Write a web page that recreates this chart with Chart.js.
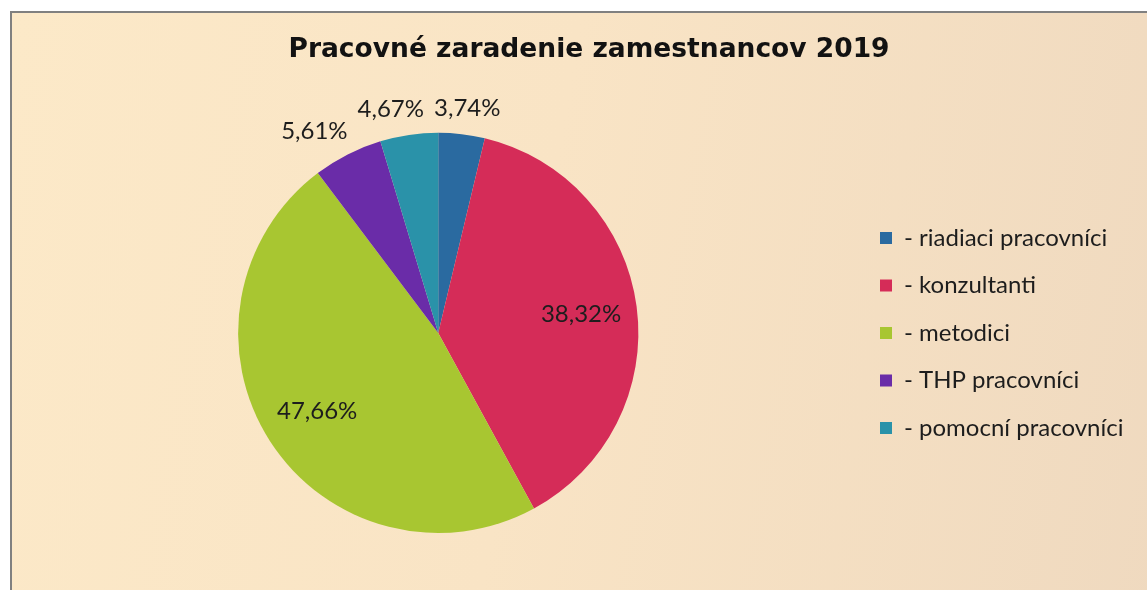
<!DOCTYPE html>
<html lang="sk">
<head>
<meta charset="utf-8">
<title>Pracovné zaradenie zamestnancov 2019</title>
<script src="https://cdn.jsdelivr.net/npm/chart.js@4.4.1/dist/chart.umd.min.js"></script>
<style>
  html, body { margin: 0; padding: 0; background: #fff; overflow: hidden; width: 1147px; height: 590px; }
  .frame {
    position: absolute; left: 10px; top: 11px; width: 1160px; height: 600px;
    border-left: 2px solid #808080; border-top: 2px solid #808080;
    background: linear-gradient(100deg, #fce9c8 0%, #f9e4c5 45%, #efd9bf 100%);
  }
  #chart { position: absolute; left: 20px; top: 0; }
</style>
</head>
<body>
<div class="frame"></div>
<canvas id="chart" width="1138" height="590"></canvas>
<script>
// data
const categories = ["riadiaci pracovníci", "konzultanti", "metodici", "THP pracovníci", "pomocní pracovníci"];
const shares = [3.74, 38.32, 47.66, 5.61, 4.67];
const sliceColors = ["#2a6aa0", "#d52c58", "#a8c631", "#6a2ca8", "#2a92a9"];
const titleText = "Pracovné zaradenie zamestnancov 2019";

// percentage labels: small slices outside, big ones inside
const pctLabels = {
  id: "pctLabels",
  afterDatasetsDraw(chart) {
    const ctx = chart.ctx;
    const meta = chart.getDatasetMeta(0);
    const h = 24, gap = 10;
    ctx.save();
    ctx.font = "24px Lato";
    ctx.fillStyle = "#1d1d1d";
    ctx.textAlign = "center";
    ctx.textBaseline = "middle";
    const outside = [];
    const inside = [];
    meta.data.forEach((arc, i) => {
      const p = arc.getProps(["x", "y", "startAngle", "endAngle", "outerRadius"], true);
      const mid = (p.startAngle + p.endAngle) / 2;
      const txt = shares[i].toFixed(2).replace(".", ",") + "%";
      const dx = Math.cos(mid), dy = Math.sin(mid);
      const w = ctx.measureText(txt).width;
      if (shares[i] < 10) {
        outside.push({
          txt, w,
          x: p.x + dx * (p.outerRadius + 14) + dx * w / 2,
          y: p.y + dy * (p.outerRadius + 14) + dy * h / 2
        });
      } else {
        inside.push({ txt, x: p.x + dx * p.outerRadius * 0.72, y: p.y + dy * p.outerRadius * 0.72 });
      }
    });
    // push overlapping outside labels apart
    outside.sort((a, b) => a.x - b.x);
    for (let k = outside.length - 2; k >= 0; k--) {
      const a = outside[k], b = outside[k + 1];
      const need = (a.w + b.w) / 2 + gap;
      if (Math.abs(a.y - b.y) < h && b.x - a.x < need) {
        a.x = b.x - need;
      }
    }
    outside.concat(inside).forEach(l => ctx.fillText(l.txt, l.x, l.y));
    ctx.restore();
  }
};

new Chart(document.getElementById("chart"), {
  type: "pie",
  data: {
    labels: categories,
    datasets: [{
      data: shares,
      backgroundColor: sliceColors,
      borderWidth: 0
    }]
  },
  options: {
    responsive: false,
    animation: false,
    layout: { padding: { left: 0, right: 0, top: 0, bottom: 57 } },
    plugins: {
      title: {
        display: true,
        text: titleText,
        color: "#121212",
        font: { family: "DejaVu Sans", size: 26.5, weight: "bold" },
        padding: { top: 34, bottom: 67 }
      },
      legend: {
        position: "right",
        fullSize: false,
        labels: {
          color: "#1d1d1d",
          font: { family: "Lato", size: 24 },
          boxWidth: 12,
          boxHeight: 12,
          padding: 23.5,
          generateLabels(chart) {
            const items = Chart.overrides.doughnut.plugins.legend.labels.generateLabels(chart);
            // trailing spaces widen the legend column so the pie sits left of it as in the source
            return items.map(it => ({ ...it, text: "- " + it.text + "    " }));
          }
        }
      },
      tooltip: { enabled: false }
    }
  },
  plugins: [pctLabels]
});
</script>
</body>
</html>
